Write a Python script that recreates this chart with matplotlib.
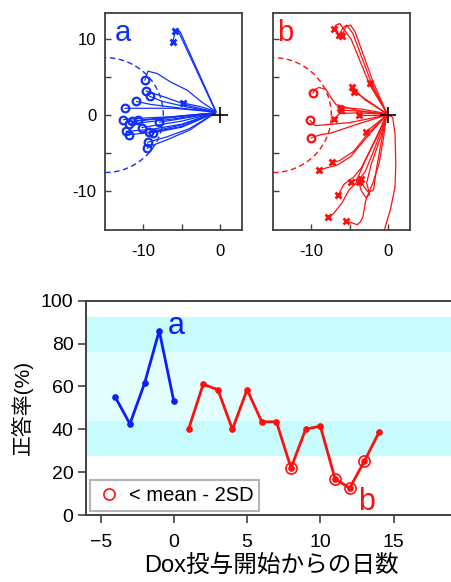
import matplotlib
matplotlib.use("Agg")
import matplotlib.pyplot as plt
from matplotlib.patches import Circle
from matplotlib.lines import Line2D

plt.rcParams['font.family'] = ['Liberation Sans', 'Noto Sans CJK JP', 'DejaVu Sans']

# ---------------- data: panel a trajectories (blue) ----------------
traj_a = [
    ([-0.6, -5.5, -5.9], [0.5, 11.2, 11.1], 'x'),
    ([-0.5, -5.2, -5.7, -6.2], [0.4, 11.0, 11.4, 9.7], 'x'),
    ([-0.6, -2.5, -4.85], [0.5, 1.1, 1.6], 'x'),
    ([-0.6, -2.5, -4.3, -6.5, -8.2, -9.4, -9.8], [0.5, 1.8, 3.3, 4.4, 5.5, 5.8, 4.6], 'o'),
    ([-0.6, -4.0, -7.0, -9.65], [0.4, 1.2, 2.3, 3.2], 'o'),
    ([-0.6, -4.0, -7.5, -9.2], [0.4, 1.0, 1.8, 2.5], 'o'),
    ([-0.6, -5.0, -9.0, -10.9], [0.4, 0.9, 1.4, 1.8], 'o'),
    ([-0.6, -6.0, -12.4], [0.4, 0.9, 0.9], 'o'),
    ([-0.6, -6.0, -10.0, -12.6], [0.3, -0.2, -0.4, -0.6], 'o'),
    ([-0.6, -6.0, -11.9], [0.3, -0.5, -1.2], 'o'),
    ([-0.6, -6.0, -11.5], [0.3, -0.3, -0.85], 'o'),
    ([-0.6, -5.0, -10.7], [0.3, -0.1, -0.7], 'o'),
    ([-0.6, -5.0, -10.2], [0.3, -0.8, -1.65], 'o'),
    ([-0.6, -4.0, -7.9], [0.3, -0.3, -0.95], 'o'),
    ([-0.6, -5.0, -9.0, -12.25], [0.3, -1.2, -1.9, -2.15], 'o'),
    ([-0.6, -5.0, -9.0, -11.9], [0.3, -1.5, -2.3, -2.6], 'o'),
    ([-0.6, -5.0, -9.25], [0.3, -1.3, -2.25], 'o'),
    ([-0.6, -5.0, -8.8], [0.3, -1.6, -2.35], 'o'),
    ([-0.6, -4.0, -7.0, -9.45], [0.3, -1.8, -2.9, -3.6], 'o'),
    ([-0.6, -4.0, -7.0, -8.8, -9.5], [0.3, -2.0, -3.3, -4.0, -4.4], 'o'),
]

# ---------------- data: panel b trajectories (red) ----------------
traj_b = [
    ([-0.2, -2.4, -4.8, -6.3, -6.8, -7.1], [0.3, 4.0, 10.0, 12.1, 11.9, 11.4], 'x'),
    ([-0.2, -2.2, -4.6, -5.4, -5.9, -6.4], [0.3, 4.3, 10.8, 11.9, 11.5, 10.6], 'x'),
    ([-0.2, -2.0, -4.3, -4.9, -5.5, -5.8, -6.0], [0.3, 4.5, 11.0, 11.9, 11.7, 11.0, 10.5], 'x'),
    ([-0.2, -1.2, -2.4], [0.3, 2.2, 4.2], 'x'),
    ([-0.2, -2.5, -4.4], [0.2, 1.8, 3.1], 'x'),
    ([-0.2, -3.0, -4.7], [0.2, 2.0, 3.7], 'x'),
    ([-0.2, -3.5, -6.3], [0.2, 0.8, 1.0], 'x'),
    ([-0.2, -3.5, -6.1], [0.1, 0.5, 0.65], 'x'),
    ([-0.2, -4.0, -6.3, -7.0], [0.1, 0.3, 0.2, -0.5], 'x'),
    ([-0.2, -3.8], [0.0, 0.0], 'x'),
    ([-0.2, -4.0, -6.8, -7.5, -8.1, -9.0, -9.5, -9.8], [0.1, 0.6, 1.4, 2.4, 3.4, 3.65, 3.4, 2.9], 'o'),
    ([-0.2, -5.0, -9.5, -10.2], [0.0, -1.0, -1.4, -0.7], 'o'),
    ([-0.2, -4.0, -7.5, -8.8, -10.0], [0.0, -1.2, -2.4, -2.6, -3.0], 'o'),
    ([-0.2, -1.5, -2.9], [0.0, -1.1, -2.2], 'x'),
    ([-0.2, -2.5, -4.5, -6.4, -7.3], [0.0, -2.3, -4.8, -6.07, -6.2], 'x'),
    ([-0.2, -2.5, -4.9, -6.6, -8.1, -9.0], [0.0, -2.6, -5.5, -6.6, -7.0, -7.3], 'x'),
    ([-0.2, -1.5, -3.2, -4.0, -4.9], [0.0, -3.0, -6.5, -8.4, -8.9], 'x'),
    ([-0.2, -1.0, -2.2, -2.8, -2.4, -2.9, -3.5, -3.8], [0.0, -3.0, -6.5, -9.0, -10.5, -10.9, -10.0, -8.9], 'x'),
    ([-0.2, -0.8, -1.5, -1.9, -2.6, -3.2, -3.5], [0.0, -3.0, -7.0, -9.9, -10.2, -9.4, -8.4], 'x'),
    ([-0.2, -1.8, -3.5, -4.5, -5.8, -6.5], [0.0, -3.5, -7.0, -8.2, -9.2, -10.6], 'x'),
    ([-0.2, -1.6, -3.0, -4.2, -5.1, -6.0, -7.1, -7.8], [0.0, -4.0, -7.5, -9.0, -9.9, -11.6, -13.0, -13.5], 'x'),
    ([-0.2, -0.6, -1.2, -2.0, -2.9, -3.3, -3.6, -4.0, -5.5], [0.0, -3.0, -6.5, -9.0, -11.2, -13.5, -14.1, -14.5, -14.0], 'x'),
    ([0.0, 0.6, 0.9, 1.0, 0.9, 0.3, -0.3, -0.7], [0.0, -0.3, -2.5, -6.5, -9.5, -12.5, -14.5, -16.0], None),
]

zone_center = (-15.0, 0.0)
zone_radius = 7.6

# ---------------- data: bottom panel ----------------
days_a = [-4, -3, -2, -1, 0]
rate_a = [55, 42.5, 61.5, 86, 53]
days_b = [1, 2, 3, 4, 5, 6, 7, 8, 9, 10, 11, 12, 13, 14]
rate_b = [40, 61, 58.5, 40, 58.5, 43.5, 43.5, 22, 40, 41.5, 17, 12.5, 25, 38.5]
low_days = [8, 11, 12, 13]
low_rates = [22, 17, 12.5, 25]
band_outer = (27.7, 92.3)
band_inner = (43.8, 76.2)

W, H = 452, 582
fig = plt.figure(figsize=(W / 100, H / 100), dpi=100)

spine_col = '#404040'

def traj_panel(rect, trajs, color, label, show_ylabels):
    ax = fig.add_axes(rect)
    for xs, ys, m in trajs:
        ax.plot(xs, ys, color=color, lw=0.9, solid_capstyle='round')
        if m == 'o':
            ax.plot(xs[-1], ys[-1], 'o', mfc='none', mec=color, mew=1.6, ms=5.5)
        elif m == 'x':
            ax.plot(xs[-1], ys[-1], 'x', color=color, mew=2.0, ms=5)
    ax.add_patch(Circle(zone_center, zone_radius, fill=False, ls=(0, (4, 2.5)),
                        ec=color, lw=1.0))
    ax.plot(0, 0, '+', color='black', ms=11, mew=1.2)
    ax.set_xlim(-15, 2.85)
    ax.set_ylim(-15.2, 13.5)
    ax.set_xticks([-10, -5, 0])
    ax.set_xticklabels(['-10', '', '0'])
    ax.set_yticks([-10, -5, 0, 5, 10])
    ax.set_yticklabels(['-10', '', '0', '', '10'] if show_ylabels else [''] * 5)
    ax.tick_params(direction='in', length=4, width=1.0, color=spine_col, labelsize=12)
    ax.tick_params(axis='x', pad=10)
    ax.tick_params(axis='y', pad=6)
    for s in ax.spines.values():
        s.set_color(spine_col)
        s.set_linewidth(1.3)
    ax.text(0.03 if label == 'b' else 0.07, 0.87, label, transform=ax.transAxes,
            color=color, fontsize=21, ha='left', va='baseline')
    return ax

traj_panel([105 / W, 1 - 230 / H, 137 / W, 217 / H], traj_a, '#1030ff', 'a', True)
traj_panel([273 / W, 1 - 230 / H, 137 / W, 217 / H], traj_b, '#ff1010', 'b', False)

# ---------------- bottom panel ----------------
ax = fig.add_axes([86 / W, 1 - 515 / H, 1 - 86 / W + 0.01, 214.3 / H])
ax.axhspan(band_outer[0], band_outer[1], color='#c8fcfc', lw=0, zorder=0)
ax.axhspan(band_inner[0], band_inner[1], color='#e2fefe', lw=0, zorder=0)
ax.plot(days_a, rate_a, '-o', color='#0a1eff', lw=2.0, ms=3.8)
ax.plot(days_b, rate_b, '-o', color='#ff1010', lw=2.0, ms=3.8)
ax.plot(low_days, low_rates, 'o', mfc='none', mec='#ff1010', mew=1.2, ms=8)
ax.text(-0.45, 84.5, 'a', color='#0a1eff', fontsize=22, ha='left', va='baseline')
ax.text(12.6, 2.3, 'b', color='#ff1010', fontsize=22, ha='left', va='baseline')
ax.set_xlim(-6, 19.3)
ax.set_ylim(0, 100)
ax.set_xticks([-5, 0, 5, 10, 15])
ax.set_yticks([0, 20, 40, 60, 80, 100])
ax.tick_params(direction='out', length=5.5, width=1.2, color=spine_col, labelsize=14)
ax.tick_params(axis='x', pad=8)
ax.tick_params(axis='y', pad=3.5)
for k, s in ax.spines.items():
    s.set_color(spine_col)
    s.set_linewidth(1.4)
ax.spines['right'].set_visible(False)
ax.set_xlabel('Dox投与開始からの日数', fontsize=17, labelpad=3)
ax.set_ylabel('正答率(%)', fontsize=15, labelpad=6)
handle = Line2D([], [], marker='o', mfc='none', mec='#ff1010', mew=1.2, ms=8, ls='none')
leg = ax.legend([handle], ['< mean - 2SD'], loc='lower left', bbox_to_anchor=(0.012, 0.02),
                fontsize=14.5, frameon=True, fancybox=False, edgecolor='#b4b4b4',
                framealpha=1, handletextpad=0.4, borderpad=0.3, handlelength=1.2,
                borderaxespad=0)
leg.get_frame().set_linewidth(1.5)

fig.savefig('out.png', dpi=100)
